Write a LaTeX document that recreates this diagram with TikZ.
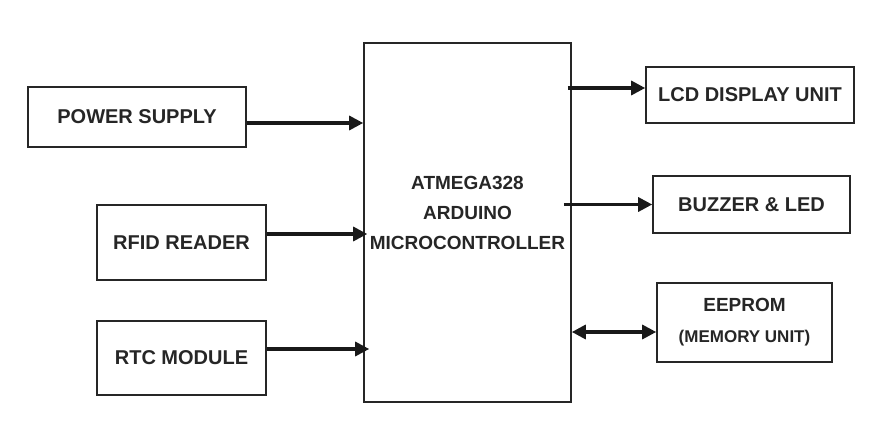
\documentclass[tikz,border=0pt]{standalone}
\usepackage{fontspec}
\setmainfont{Liberation Sans}
\usetikzlibrary{arrows.meta}

\tikzset{
  block/.style={draw=black!85,line width=1.6pt,inner sep=0pt,text=black!85,
    font=\bfseries\fontsize{20}{30}\selectfont,align=center},
  link/.style={line width=3.2pt,draw=black!90,-{Triangle[length=14pt,width=14pt]}},
  both/.style={line width=3.2pt,draw=black!90,{Triangle[length=14pt,width=14pt]}-{Triangle[length=14pt,width=14pt]}}
}

\begin{document}
\begin{tikzpicture}[x=1pt,y=1pt]
    \useasboundingbox (0,0) rectangle (890,437);
    \fill[white] (0,0) rectangle (890,437);
    % controller
    \node (mcu) at (467.5,214.5) [block,minimum width=207pt,minimum height=359pt,
      label={[name=mcutext,align=center,yshift=10pt,text=black!85,
      font=\bfseries\fontsize{19}{30}\selectfont]center:ATMEGA328\\ARDUINO\\MICROCONTROLLER}] {};
    % inputs
    \node (power) at (137,320) [block,minimum width=218pt,minimum height=60pt] {POWER SUPPLY};
    \node (rfid) at (181.5,194.5) [block,minimum width=169pt,minimum height=75pt] {RFID READER};
    \node (rtc) at (181.5,79) [block,minimum width=169pt,minimum height=74pt] {RTC MODULE};
    % outputs
    \node (lcd) at (750,342) [block,minimum width=208pt,minimum height=56pt] {LCD DISPLAY UNIT};
    \node (buzzer) at (751.5,232.5) [block,minimum width=197pt,minimum height=57pt] {BUZZER \& LED};
    \node (eeprom) at (744.5,114.5) [block,minimum width=175pt,minimum height=79pt,
      font=\bfseries\fontsize{19}{31}\selectfont] {EEPROM\\{\fontsize{17}{31}\selectfont (MEMORY UNIT)}};
    % connectors
    \coordinate (pwrout) at ([yshift=-6pt]power.east);
    \coordinate (rfidout) at ([yshift=8.5pt]rfid.east);
    \coordinate (rtcout) at ([yshift=9pt]rtc.east);
    \coordinate (lcdin) at ([yshift=7pt]lcd.west);
    \coordinate (eepin) at ([yshift=-9.5pt]eeprom.west);
    \draw[link] (pwrout) -- (pwrout -| mcu.west);
    \draw[link] (rfidout) -- ([xshift=4pt]rfidout -| mcu.west);
    \draw[link] (rtcout) -- ([xshift=6pt]rtcout -| mcu.west);
    \draw[link] ([xshift=-4pt]lcdin -| mcu.east) -- (lcdin);
    \draw[link] ([xshift=-8pt]buzzer.west -| mcu.east) -- (buzzer.west);
    \draw[both] (eepin -| mcu.east) -- (eepin);
\end{tikzpicture}
\end{document}
